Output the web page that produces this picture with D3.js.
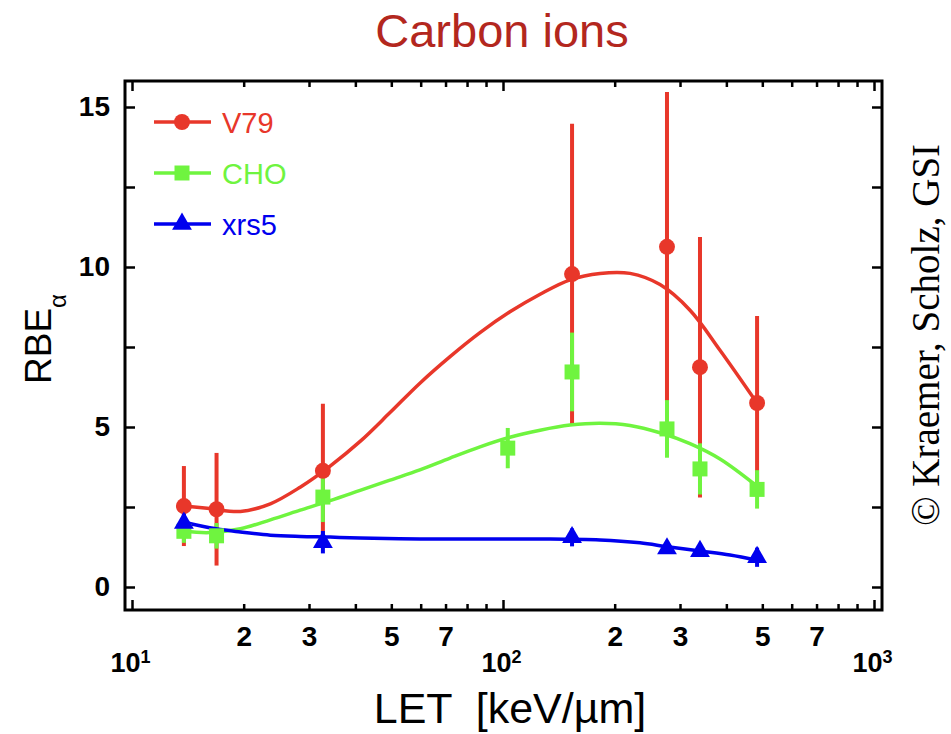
<!DOCTYPE html>
<html>
<head>
<meta charset="utf-8">
<script src="https://cdn.jsdelivr.net/npm/d3@7"></script>
<style>
  body { margin: 0; background: #fff; }
  svg { display: block; }
  .tick text { font-family: "Liberation Sans Narrow", "Liberation Sans", Arial, sans-serif; font-weight: bold; }
</style>
</head>
<body>
<svg id="chart"></svg>
<script>
var title = "Carbon ions";
var seriesNames = ["V79", "CHO", "xrs5"];
var seriesColors = ["#e8372a", "#6ff43f", "#0000ee"];

// measured points: LET, RBE alpha, error
var v79Let = [13.8, 16.9, 32.7, 153.5, 276.7, 339.6, 484];
var v79Rbe = [2.53, 2.43, 3.63, 9.78, 10.63, 6.87, 5.75];
var v79Err = [1.25, 1.76, 2.1, 4.7, 4.84, 4.07, 2.72];

var choLet = [13.8, 16.9, 32.7, 103, 153.5, 276.7, 339.6, 484];
var choRbe = [1.74, 1.6, 2.81, 4.34, 6.72, 4.94, 3.69, 3.05];
var choErr = [0.36, 0.4, 0.78, 0.63, 1.23, 0.9, 0.8, 0.6];

var xrsLet = [13.8, 32.7, 153.5, 276.7, 339.6, 484];
var xrsRbe = [2.0, 1.4, 1.55, 1.2, 1.12, 0.93];
var xrsErr = [0.35, 0.35, 0.28, 0.12, 0.1, 0.3];

// fitted curves
var v79FitLet = [13.8, 16.2, 19.6, 23.6, 28.4, 34.2, 41.2, 49.6, 59.7, 72.0, 86.7, 104.4, 125.9, 151.6, 182.6, 220, 265, 319.2, 384.5, 483.8];
var v79FitRbe = [2.53, 2.45, 2.36, 2.6, 3.12, 3.78, 4.55, 5.45, 6.37, 7.2, 7.95, 8.6, 9.15, 9.6, 9.8, 9.8, 9.45, 8.65, 7.4, 5.75];

var choFitLet = [13.8, 16.2, 19.6, 23.6, 28.4, 34.2, 41.2, 49.6, 59.7, 72.0, 86.7, 104.4, 125.9, 151.6, 182.6, 220, 265, 319.2, 384.5, 483.8];
var choFitRbe = [1.74, 1.7, 1.82, 2.1, 2.4, 2.7, 3.02, 3.34, 3.66, 4.03, 4.38, 4.68, 4.9, 5.06, 5.12, 5.05, 4.82, 4.48, 4.0, 3.15];

var xrsFitLet = [13.8, 16.2, 19.6, 23.6, 28.4, 34.2, 41.2, 59.7, 86.7, 125.9, 182.6, 234, 277.5, 343.9, 409.2, 483.8];
var xrsFitRbe = [2.03, 1.85, 1.72, 1.62, 1.58, 1.56, 1.53, 1.5, 1.5, 1.5, 1.47, 1.38, 1.26, 1.12, 1.0, 0.84];

var xMajor = [10, 100, 1000];
var xMinor = [20, 30, 40, 50, 60, 70, 80, 90, 200, 300, 400, 500, 600, 700, 800, 900];
var xLabelled = [20, 30, 50, 70, 200, 300, 500, 700];
var yTicks = [0, 2.5, 5, 7.5, 10, 12.5, 15];
var yLabelled = [0, 5, 10, 15];

var width = 951, height = 734;
var frame = { left: 125, right: 882, top: 81, bottom: 610 };

var svg = d3.select("#chart").attr("width", width).attr("height", height);

var x = d3.scaleLog().domain([10, 1000]).range([132, 874]);
var y = d3.scaleLinear().domain([0, 15]).range([587, 107]);

// axes, ticks pointing inward
function noLabel() { return ""; }

svg.append("g").attr("transform", "translate(0," + frame.bottom + ")")
  .call(d3.axisBottom(x).tickValues(xMinor).tickSize(-6).tickFormat(noLabel));
svg.append("g").attr("transform", "translate(0," + frame.bottom + ")")
  .call(d3.axisBottom(x).tickValues(xMajor).tickSize(-10).tickFormat(noLabel));
svg.append("g").attr("transform", "translate(0," + frame.top + ")")
  .call(d3.axisTop(x).tickValues(xMinor).tickSize(-6).tickFormat(noLabel));
svg.append("g").attr("transform", "translate(0," + frame.top + ")")
  .call(d3.axisTop(x).tickValues(xMajor).tickSize(-10).tickFormat(noLabel));

var xDigits = svg.append("g").attr("transform", "translate(0," + frame.bottom + ")")
  .call(d3.axisBottom(x).tickValues(xLabelled).tickSize(0).tickPadding(16)
    .tickFormat(function(d) { return String(d).charAt(0); }));
xDigits.selectAll("text").attr("font-size", 28).attr("fill", "#000");

var xPow = svg.append("g").attr("transform", "translate(0," + frame.bottom + ")")
  .call(d3.axisBottom(x).tickValues(xMajor).tickSize(0).tickPadding(43).tickFormat(noLabel));
xPow.selectAll("text").each(function(d) {
  var t = d3.select(this).attr("font-size", 27).attr("fill", "#000").attr("dx", "-2");
  t.append("tspan").text("10");
  t.append("tspan").attr("font-size", 18).attr("dy", "-9").text(Math.round(Math.log10(d)));
});

svg.append("g").attr("transform", "translate(" + frame.left + ",0)")
  .call(d3.axisLeft(y).tickValues(yTicks).tickSize(-10).tickPadding(15)
    .tickFormat(function(d) { return yLabelled.indexOf(d) >= 0 ? d : ""; }))
  .selectAll("text").attr("font-size", 28).attr("fill", "#000");
svg.append("g").attr("transform", "translate(" + frame.right + ",0)")
  .call(d3.axisRight(y).tickValues(yTicks).tickSize(-10).tickFormat(noLabel));

svg.selectAll(".domain").remove();
svg.selectAll(".tick line").attr("stroke", "#000").attr("stroke-width", 2.5);

svg.append("rect")
  .attr("x", frame.left).attr("y", frame.top)
  .attr("width", frame.right - frame.left).attr("height", frame.bottom - frame.top)
  .attr("fill", "none").attr("stroke", "#000").attr("stroke-width", 3);

// titles
svg.append("text").attr("x", 502).attr("y", 47).attr("text-anchor", "middle")
  .attr("font-family", "Liberation Sans, Arial, sans-serif").attr("font-size", 47)
  .attr("fill", "#b3271e").text(title);

svg.append("text").attr("x", 510).attr("y", 723).attr("text-anchor", "middle")
  .attr("font-family", "Liberation Sans, Arial, sans-serif").attr("font-size", 43)
  .attr("fill", "#000").style("white-space", "pre").text("LET  [keV/\u00b5m]");

var yTitle = svg.append("text").attr("transform", "translate(51,339) rotate(-90)")
  .attr("text-anchor", "middle")
  .attr("font-family", "Liberation Sans, Arial, sans-serif").attr("font-size", 37)
  .attr("fill", "#000");
yTitle.append("tspan").text("RBE");
yTitle.append("tspan").attr("font-size", 24).attr("dy", 15).text("\u03b1");

svg.append("text").attr("transform", "translate(939,335) rotate(-90)")
  .attr("text-anchor", "middle")
  .attr("font-family", "Liberation Serif, Times New Roman, serif").attr("font-size", 39)
  .attr("fill", "#000").text("\u00a9 Kraemer, Scholz, GSI");

// series
var series = [
  { name: seriesNames[0], color: seriesColors[0], symbol: d3.symbolCircle, size: 200,
    lets: v79Let, rbe: v79Rbe, err: v79Err, fitLet: v79FitLet, fitRbe: v79FitRbe },
  { name: seriesNames[1], color: seriesColors[1], symbol: d3.symbolSquare, size: 225,
    lets: choLet, rbe: choRbe, err: choErr, fitLet: choFitLet, fitRbe: choFitRbe },
  { name: seriesNames[2], color: seriesColors[2], symbol: d3.symbolTriangle, size: 170,
    lets: xrsLet, rbe: xrsRbe, err: xrsErr, fitLet: xrsFitLet, fitRbe: xrsFitRbe }
];
series.forEach(function(s) {
  s.points = s.lets.map(function(l, i) { return { let: l, rbe: s.rbe[i], err: s.err[i] }; });
  s.fit = s.fitLet.map(function(l, i) { return [l, s.fitRbe[i]]; });
});

var line = d3.line()
  .x(function(d) { return x(d[0]); })
  .y(function(d) { return y(d[1]); })
  .curve(d3.curveCatmullRom.alpha(0.5));

var barLayer = svg.append("g");
var fitLayer = svg.append("g");
var markLayer = svg.append("g");

series.forEach(function(s) {
  barLayer.selectAll(null).data(s.points).enter().append("line")
    .attr("x1", function(d) { return x(d.let); })
    .attr("x2", function(d) { return x(d.let); })
    .attr("y1", function(d) { return y(d.rbe - d.err); })
    .attr("y2", function(d) { return y(d.rbe + d.err); })
    .attr("stroke", s.color).attr("stroke-width", 4);

  fitLayer.append("path").datum(s.fit)
    .attr("d", line).attr("fill", "none")
    .attr("stroke", s.color).attr("stroke-width", 3.5);

  markLayer.selectAll(null).data(s.points).enter().append("path")
    .attr("d", d3.symbol().type(s.symbol).size(s.size))
    .attr("transform", function(d) { return "translate(" + x(d.let) + "," + y(d.rbe) + ")"; })
    .attr("fill", s.color);
});

// legend
var legend = svg.append("g").attr("transform", "translate(154,122)");
var rows = legend.selectAll("g").data(series).enter().append("g")
  .attr("transform", function(d, i) { return "translate(0," + i * 51 + ")"; });
rows.append("line").attr("x1", 0).attr("x2", 57)
  .attr("stroke", function(d) { return d.color; }).attr("stroke-width", 3.5);
rows.append("path")
  .attr("d", function(d) { return d3.symbol().type(d.symbol).size(d.size)(); })
  .attr("transform", "translate(28,0)")
  .attr("fill", function(d) { return d.color; });
rows.append("text").attr("x", 68).attr("y", 11)
  .attr("font-family", "Liberation Sans, Arial, sans-serif").attr("font-size", 29)
  .attr("fill", function(d) { return d.color; })
  .text(function(d) { return d.name; });
</script>
</body>
</html>
